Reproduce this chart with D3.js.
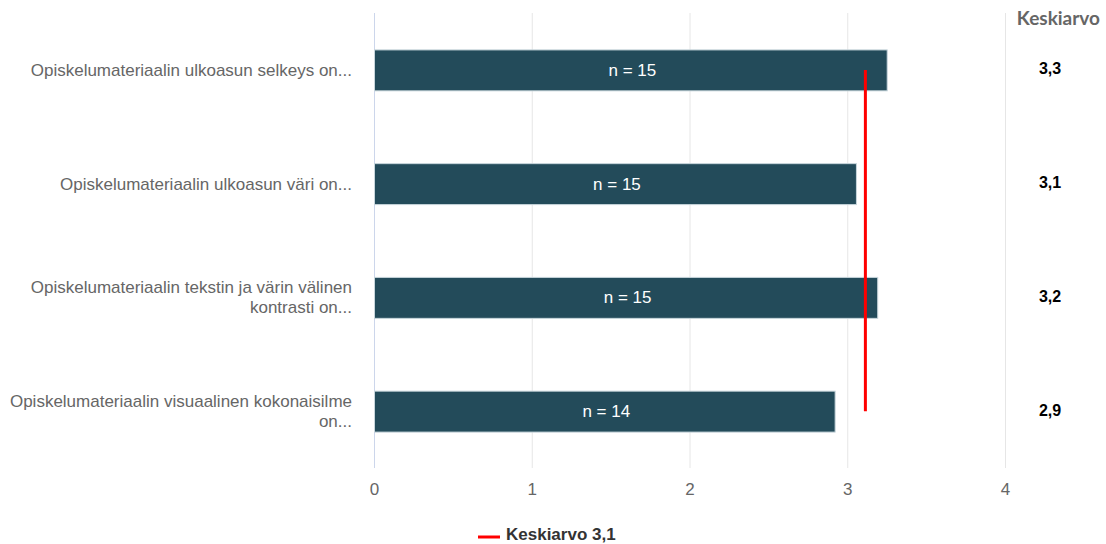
<!DOCTYPE html>
<html>
<head>
<meta charset="utf-8">
<script src="https://cdn.jsdelivr.net/npm/d3@7"></script>
<style>
html,body{margin:0;padding:0;background:#fff;}
svg{display:block;}
</style>
</head>
<body>
<svg id="chart" width="1106" height="544"></svg>
<script>
const categories = [
  ["Opiskelumateriaalin ulkoasun selkeys on..."],
  ["Opiskelumateriaalin ulkoasun väri on..."],
  ["Opiskelumateriaalin tekstin ja värin välinen", "kontrasti on..."],
  ["Opiskelumateriaalin visuaalinen kokonaisilme", "on..."]
];
const values = [3.25, 3.055, 3.19, 2.92];
const counts = [15, 15, 15, 14];
const meanLabels = ["3,3", "3,1", "3,2", "2,9"];
const overallMean = 3.115;
const overallMeanLabel = "Keskiarvo 3,1";
const xTicks = [0, 1, 2, 3, 4];
const meanHeader = "Keskiarvo";

(function () {
const svg = d3.select("#chart");
const pLeft = 374, pRight = 1005, pTop = 13, pBottom = 468;
const sans = "'Liberation Sans', Arial, sans-serif";

const x = d3.scaleLinear().domain([0, 4]).range([pLeft, pRight]);
const y = d3.scaleBand().domain(d3.range(categories.length)).range([pTop, pBottom]).paddingInner(0.64).paddingOuter(0.32);

// gridlines
svg.append("g").selectAll("line").data(xTicks.filter(d => d > 0)).join("line")
  .attr("x1", d => x(d) + 0.5).attr("x2", d => x(d) + 0.5)
  .attr("y1", pTop).attr("y2", pBottom)
  .attr("stroke", "#e6e6e6").attr("stroke-width", 1);

// axis line at 0
svg.append("line")
  .attr("x1", x(0) + 0.5).attr("x2", x(0) + 0.5)
  .attr("y1", pTop).attr("y2", pBottom)
  .attr("stroke", "#ccd6eb").attr("stroke-width", 1);

// x tick labels
const xAxis = d3.axisBottom(x).tickValues(xTicks).tickSize(0).tickFormat(d3.format("d"));
const gx = svg.append("g").attr("transform", `translate(0,${pBottom + 12})`).call(xAxis);
gx.select(".domain").remove();
gx.selectAll("text").attr("fill", "#666").style("font-family", sans).style("font-size", "17px");

// bars
const bars = svg.append("g");
bars.selectAll("rect").data(values).join("rect")
  .attr("x", x(0) + 0.5)
  .attr("y", (d, i) => y(i) + 0.5)
  .attr("width", d => x(d) - x(0))
  .attr("height", y.bandwidth())
  .attr("fill", "#234b5a")
  .attr("stroke", "#c8d6dc").attr("stroke-width", 1);

// n labels
bars.selectAll("text").data(values).join("text")
  .attr("x", d => (x(0) + x(d)) / 2 + 2)
  .attr("y", (d, i) => y(i) + y.bandwidth() / 2)
  .attr("dy", "0.35em")
  .attr("text-anchor", "middle")
  .attr("fill", "#ffffff")
  .style("font-family", sans)
  .style("font-size", "17px")
  .text((d, i) => "n = " + counts[i]);

// category labels
const cat = svg.append("g");
categories.forEach((lines, i) => {
  const cy = y(i) + y.bandwidth() / 2;
  const lh = 20;
  const t = cat.append("text")
    .attr("text-anchor", "end")
    .attr("fill", "#666")
    .style("font-family", sans)
    .style("font-size", "17px");
  lines.forEach((ln, j) => {
    t.append("tspan").attr("x", 352)
      .attr("y", cy + (j - (lines.length - 1) / 2) * lh)
      .attr("dy", "0.35em").text(ln);
  });
});

// mean line
svg.append("line")
  .attr("x1", x(overallMean)).attr("x2", x(overallMean))
  .attr("y1", y(0) + y.bandwidth() / 2)
  .attr("y2", y(categories.length - 1) + y.bandwidth() / 2)
  .attr("stroke", "#ff0000").attr("stroke-width", 3);

// mean column
svg.append("text")
  .attr("x", 1100).attr("y", 18).attr("dy", "0.35em")
  .attr("text-anchor", "end").attr("fill", "#666")
  .style("font-family", "Lato, sans-serif").style("font-weight", "bold").style("font-size", "19px")
  .text(meanHeader);
svg.append("g").selectAll("text").data(meanLabels).join("text")
  .attr("x", 1050)
  .attr("y", (d, i) => y(i) + y.bandwidth() / 2 - 1)
  .attr("dy", "0.35em")
  .attr("text-anchor", "middle").attr("fill", "#000")
  .style("font-family", sans).style("font-weight", "bold").style("font-size", "16px")
  .text(d => d);

// legend
svg.append("line").attr("x1", 478).attr("x2", 500).attr("y1", 537).attr("y2", 537)
  .attr("stroke", "#ff0000").attr("stroke-width", 3);
svg.append("text").attr("x", 506).attr("y", 534).attr("dy", "0.35em")
  .attr("fill", "#333")
  .style("font-family", sans).style("font-weight", "bold").style("font-size", "17px")
  .text(overallMeanLabel);
})();
</script>
</body>
</html>
